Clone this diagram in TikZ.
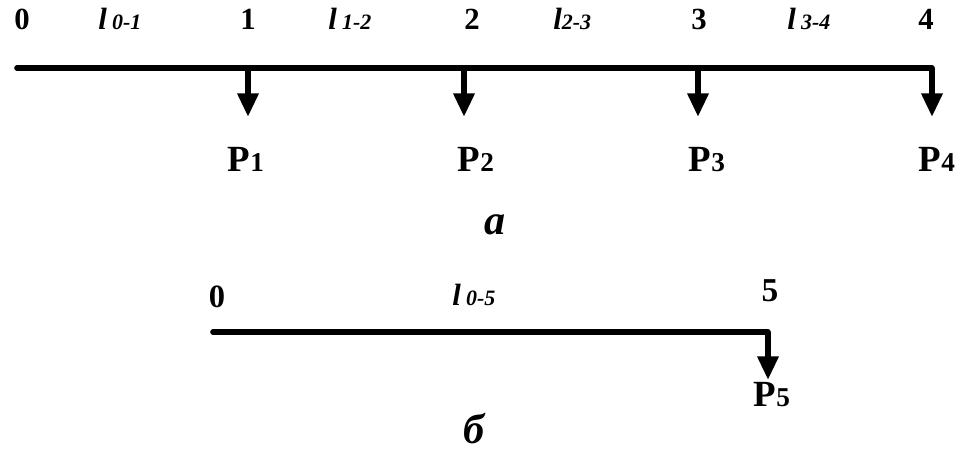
\documentclass[tikz,border=0pt]{standalone}
\usepackage{fontspec}
\setmainfont{Liberation Serif}
\usetikzlibrary{arrows.meta}
\usetikzlibrary{calc}

% small figures after l and P
\newcommand{\subfont}{\fontsize{12.5}{14}\selectfont}
\newcommand{\lseg}[2][\,]{l#1{\subfont #2}}
\newcommand{\Pforce}[1]{P{\fontsize{15.5}{18}\selectfont #1}}

\begin{document}
\begin{tikzpicture}[
    x=0.02cm, y=-0.02cm,
    >=stealth,
    % Styles for the scheme
    beam/.style={line width=3.2pt, line cap=round},
    load/.style={line width=3.8pt, -{Triangle[width=11.5pt, length=13.5pt]}},
    ptnum/.style={font=\fontsize{17.5}{20}\selectfont\bfseries, anchor=base, inner sep=0pt},
    seglab/.style={font=\fontsize{17.5}{20}\selectfont\bfseries\itshape, anchor=base west, inner sep=0pt},
    forcelab/.style={font=\fontsize{21}{24}\selectfont\bfseries, anchor=base, inner sep=0pt},
    figlab/.style={font=\fontsize{24}{28}\selectfont\bfseries\itshape, anchor=base, inner sep=0pt}
]
    \useasboundingbox (0,0) rectangle (957,452);

    % =========================================================================
    % a) FOUR LOADS ALONG THE LINE
    % =========================================================================
    \coordinate (n0) at (17,68);
    \coordinate (n1) at (248,68);
    \coordinate (n2) at (464,68);
    \coordinate (n3) at (698,68);
    \coordinate (n4) at (932,68);

    \draw[beam] (n0) -- (n4);

    % Load arrows
    \foreach \i in {1,...,4} {
        \coordinate (f\i) at ($(n\i)+(0,49)$);
    }
    \draw[load] (n1) -- (f1);
    \draw[load] (n2) -- (f2);
    \draw[load] (n3) -- (f3);
    \draw[load] (n4) -- (f4);

    % Point numbers and segment names
    \node[ptnum] (t0) at (22,30) {0};
    \node[ptnum] (t1) at (248,30) {1};
    \node[ptnum] (t2) at (472,30) {2};
    \node[ptnum] (t3) at (699,30) {3};
    \node[ptnum] (t4) at (926,30) {4};

    \node[seglab] (l01) at (98,30) {\lseg{0-1}};
    \node[seglab] (l12) at (328,30) {\lseg{1-2}};
    \node[seglab] (l23) at (553,30) {\lseg[]{2-3}};
    \node[seglab] (l34) at (787,30) {\lseg{3-4}};

    % Loads
    \node[forcelab] (P1) at (246,172) {\Pforce{1}};
    \node[forcelab] (P2) at (476,172) {\Pforce{2}};
    \node[forcelab] (P3) at (707,172) {\Pforce{3}};
    \node[forcelab] (P4) at (937,172) {\Pforce{4}};

    \node[figlab] (capa) at (495,235) {а};

    % =========================================================================
    % b) ONE EQUIVALENT LOAD
    % =========================================================================
    \coordinate (m0) at (213,332);
    \coordinate (m5) at (768,332);
    \coordinate (g5) at (768,380);

    \draw[beam] (m0) -- (m5);
    \draw[load] (m5) -- (g5);

    \node[ptnum, font=\fontsize{18.5}{21}\selectfont\bfseries] (b0) at (217,308) {0};
    \node[ptnum, font=\fontsize{19}{22}\selectfont\bfseries] (b5) at (770,302) {5};
    \node[seglab] (l05) at (452,306) {\lseg{0-5}};

    \node[forcelab] (P5) at (772,407) {\Pforce{5}};

    \node[figlab] (capb) at (474,443) {б};

\end{tikzpicture}
\end{document}
